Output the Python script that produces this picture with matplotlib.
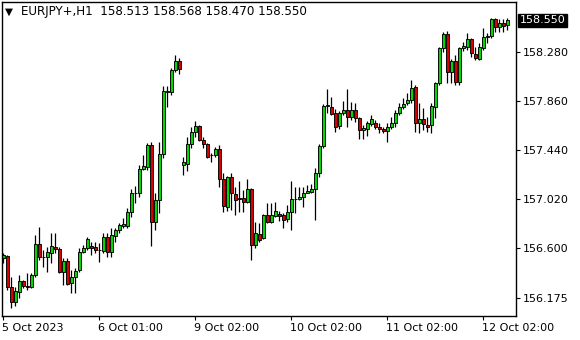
import matplotlib
matplotlib.use("Agg")
import matplotlib.pyplot as plt
import matplotlib.transforms as mtransforms

# EURJPY+ H1 bars (oldest first)
opens = [
    156.515, 156.532, 156.266, 156.138, 156.224, 156.318, 156.275, 156.266, 156.369, 156.634,
    156.523, 156.523, 156.557, 156.609, 156.592, 156.395, 156.489, 156.300, 156.352, 156.412,
    156.566, 156.600, 156.617, 156.609, 156.583, 156.574, 156.694, 156.566, 156.703, 156.754,
    156.788, 156.788, 156.908, 157.071, 157.071, 157.277, 157.294, 157.482, 156.823, 157.011,
    157.405, 157.933, 157.935, 158.124, 158.201, 157.311, 157.319, 157.490, 157.593, 157.644,
    157.525, 157.490, 157.396, 157.396, 157.447, 157.191, 156.951, 157.208, 157.062, 157.028,
    157.028, 156.994, 157.105, 156.626, 156.720, 156.686, 156.883, 156.823, 156.874, 156.891,
    156.883, 156.848, 156.908, 157.020, 157.020, 157.037, 157.071, 157.079, 157.105, 157.242,
    157.473, 157.815, 157.807, 157.756, 157.644, 157.756, 157.781, 157.721, 157.781, 157.713,
    157.610, 157.619, 157.662, 157.670, 157.636, 157.619, 157.602, 157.636, 157.670, 157.756,
    157.807, 157.841, 157.867, 157.978, 157.670, 157.704, 157.653, 157.653, 157.807, 158.012,
    158.312, 158.432, 158.107, 158.201, 158.021, 158.312, 158.321, 158.389, 158.261, 158.218,
    158.312, 158.406, 158.415, 158.560, 158.492, 158.526, 158.513,
]
highs = [
    156.557, 156.540, 156.352, 156.266, 156.369, 156.326, 156.386, 156.386, 156.711, 156.780,
    156.583, 156.609, 156.729, 156.729, 156.609, 156.515, 156.515, 156.412, 156.429, 156.600,
    156.626, 156.694, 156.651, 156.651, 156.643, 156.729, 156.729, 156.771, 156.771, 156.814,
    156.857, 156.943, 157.105, 157.131, 157.311, 157.396, 157.499, 157.507, 157.071, 157.507,
    157.987, 157.987, 158.141, 158.252, 158.227, 157.379, 157.550, 157.636, 157.687, 157.653,
    157.550, 157.499, 157.413, 157.465, 157.482, 157.242, 157.216, 157.242, 157.122, 157.174,
    157.097, 157.191, 157.114, 156.823, 156.814, 156.891, 156.985, 156.985, 156.994, 156.917,
    156.900, 156.968, 157.174, 157.122, 157.122, 157.122, 157.139, 157.148, 157.285, 157.490,
    157.833, 157.961, 157.893, 157.790, 157.773, 157.858, 157.961, 157.850, 157.841, 157.721,
    157.653, 157.687, 157.739, 157.696, 157.670, 157.636, 157.670, 157.721, 157.781, 157.841,
    157.884, 157.927, 158.038, 157.995, 157.841, 157.798, 157.721, 157.841, 158.021, 158.321,
    158.449, 158.458, 158.218, 158.252, 158.321, 158.363, 158.441, 158.395, 158.321, 158.355,
    158.483, 158.441, 158.565, 158.565, 158.560, 158.560, 158.568,
]
lows = [
    156.472, 156.241, 156.087, 156.104, 156.172, 156.258, 156.241, 156.258, 156.352, 156.497,
    156.437, 156.395, 156.472, 156.557, 156.386, 156.283, 156.283, 156.215, 156.215, 156.395,
    156.557, 156.583, 156.540, 156.557, 156.480, 156.557, 156.523, 156.523, 156.651, 156.729,
    156.771, 156.771, 156.866, 156.985, 157.037, 157.270, 157.268, 156.617, 156.754, 156.900,
    157.371, 157.807, 157.910, 158.107, 158.090, 157.225, 157.259, 157.456, 157.550, 157.516,
    157.456, 157.371, 157.336, 157.379, 157.122, 156.908, 156.917, 156.925, 156.883, 156.908,
    156.908, 156.985, 156.497, 156.600, 156.651, 156.677, 156.814, 156.814, 156.866, 156.831,
    156.771, 156.823, 156.754, 156.900, 157.011, 156.951, 157.068, 157.071, 156.840, 157.208,
    157.456, 157.756, 157.739, 157.593, 157.619, 157.739, 157.636, 157.696, 157.679, 157.533,
    157.533, 157.559, 157.644, 157.619, 157.585, 157.585, 157.507, 157.619, 157.636, 157.739,
    157.790, 157.824, 157.841, 157.593, 157.585, 157.610, 157.593, 157.585, 157.713, 157.995,
    158.278, 158.012, 158.012, 157.995, 157.995, 158.286, 158.295, 158.235, 158.209, 158.209,
    158.295, 158.355, 158.398, 158.449, 158.449, 158.449, 158.470,
]
closes = [
    156.540, 156.266, 156.138, 156.232, 156.318, 156.275, 156.270, 156.369, 156.634, 156.523,
    156.525, 156.566, 156.617, 156.592, 156.395, 156.489, 156.292, 156.352, 156.403, 156.566,
    156.600, 156.677, 156.600, 156.583, 156.585, 156.694, 156.566, 156.711, 156.754, 156.797,
    156.806, 156.908, 157.071, 157.070, 157.277, 157.302, 157.482, 156.823, 157.011, 157.405,
    157.944, 157.944, 158.124, 158.201, 158.132, 157.336, 157.490, 157.593, 157.644, 157.525,
    157.490, 157.379, 157.394, 157.447, 157.191, 156.960, 157.208, 157.071, 157.011, 157.020,
    156.994, 157.105, 156.626, 156.729, 156.669, 156.883, 156.823, 156.883, 156.917, 156.874,
    156.840, 156.908, 157.020, 157.022, 157.037, 157.071, 157.088, 157.105, 157.242, 157.473,
    157.815, 157.824, 157.747, 157.636, 157.756, 157.781, 157.721, 157.781, 157.713, 157.610,
    157.627, 157.670, 157.704, 157.636, 157.619, 157.602, 157.636, 157.670, 157.756, 157.807,
    157.833, 157.867, 157.970, 157.670, 157.704, 157.662, 157.636, 157.815, 158.012, 158.312,
    158.432, 158.107, 158.201, 158.021, 158.312, 158.329, 158.389, 158.269, 158.227, 158.321,
    158.406, 158.415, 158.560, 158.492, 158.526, 158.500, 158.550,
]

price_ticks = [158.280, 157.860, 157.440, 157.020, 156.600, 156.175]
time_tick_bars = [0, 24, 48, 72, 96, 120]
time_tick_labels = ["5 Oct 2023", "6 Oct 01:00", "9 Oct 02:00",
                    "10 Oct 02:00", "11 Oct 02:00", "12 Oct 02:00"]
symbol = "EURJPY+,H1"

UP = "#00d800"
DOWN = "#d80000"

fig = plt.figure(figsize=(5.8, 3.4), dpi=100)
ax = fig.add_axes([2 / 580, 1 - 316 / 340, 514 / 580, 314 / 340])

xs = list(range(len(opens)))
ax.vlines(xs, lows, highs, color="black", linewidth=0.9, zorder=1)
for i in xs:
    o, c = opens[i], closes[i]
    color = UP if c >= o else DOWN
    bottom = min(o, c)
    height = max(abs(c - o), 0.0005)
    ax.bar(i, height, bottom=bottom, width=0.75, color=color,
           edgecolor="black", linewidth=0.65, zorder=2)

ax.set_xlim(-0.25, 128.25)
ax.set_ylim(156.018, 158.706)

for s in ax.spines.values():
    s.set_color("black")
    s.set_linewidth(1.0)

ax.yaxis.tick_right()
ax.set_yticks(price_ticks)
ax.set_yticklabels([f"{p:.3f}" for p in price_ticks])
ax.tick_params(axis="y", direction="out", length=3, width=0.8, pad=2,
               labelsize=8, colors="black")

ax.set_xticks(time_tick_bars)
ax.set_xticklabels(time_tick_labels)
ax.tick_params(axis="x", direction="out", length=3, width=0.8, pad=2,
               labelsize=8, colors="black")
offset = mtransforms.ScaledTranslation(-1 / 100, 0, fig.dpi_scale_trans)
for lab in ax.get_xticklabels():
    lab.set_horizontalalignment("left")
    lab.set_transform(lab.get_transform() + offset)

# header with last bar values
last = len(closes) - 1
header = f"{symbol}  {opens[last]:.3f} {highs[last]:.3f} {lows[last]:.3f} {closes[last]:.3f}"
fig.text(5 / 580, 1 - 12 / 340, "\u25bc", fontsize=7.5, va="center", ha="left")
fig.text(21 / 580, 1 - 12 / 340, header, fontsize=8.6, va="center", ha="left")

# current price box on the price scale
trans = mtransforms.blended_transform_factory(ax.transAxes, ax.transData)
ax.text(1.0 + 4 / 514, closes[last], f"{closes[last]:.3f}", transform=trans,
        fontsize=8, color="white", va="center", ha="left", clip_on=False,
        bbox=dict(boxstyle="square,pad=0.15", facecolor="black", edgecolor="black"))

fig.savefig("out.png", dpi=100, facecolor="white")
